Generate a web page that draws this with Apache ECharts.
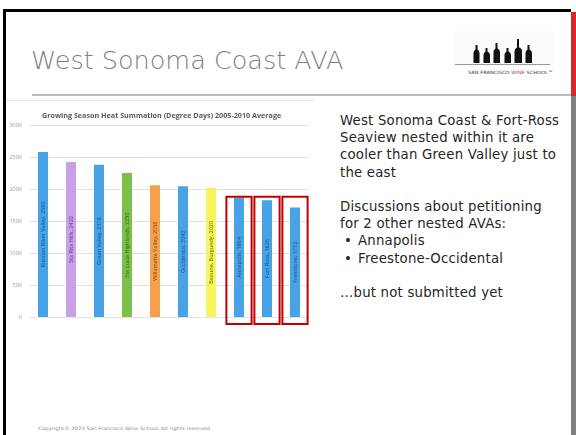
<!DOCTYPE html>
<html>
<head>
<meta charset="utf-8">
<script src="https://cdn.jsdelivr.net/npm/echarts@6/dist/echarts.min.js"></script>
<style>
  html, body { margin: 0; padding: 0; background: #fff; }
  #slide { position: relative; width: 576px; height: 435px; overflow: hidden; background: #fff; font-family: 'DejaVu Sans', sans-serif; }
  .blk { position: absolute; }
  #title { left: 31px; top: 44px; font-size: 25.5px; font-weight: 200; color: #808080; white-space: nowrap; line-height: 32px; }
  #body { left: 340px; top: 112px; font-size: 13.3px; letter-spacing: 0.2px; line-height: 17.2px; color: #262626; white-space: nowrap; }
  #body .bul { padding-left: 18px; position: relative; }
  #body .bul:before { content: '\2022'; position: absolute; left: 4px; }
  #chart { position: absolute; left: 0; top: 100px; width: 330px; height: 235px; }
</style>
</head>
<body>
<div id="slide">
  <div class="blk" style="left:3px;top:9px;width:568px;height:3px;background:#000"></div>
  <div class="blk" style="left:3px;top:9px;width:3px;height:426px;background:#000"></div>
  <div class="blk" style="left:571px;top:12px;width:5px;height:84px;background:#d9262b"></div>
  <div class="blk" style="left:571px;top:96px;width:5px;height:339px;background:#808080"></div>
  <div class="blk" style="left:32px;top:94px;width:539px;height:2px;background:#bcbcbc"></div>
  <div class="blk" style="left:6px;top:100px;width:308px;height:1px;background:#e4e4e4"></div>

  <div id="title" class="blk">West Sonoma Coast AVA</div>

  <svg class="blk" style="left:455px;top:30px" width="100" height="48" viewBox="0 0 100 48">
    <rect x="0" y="0" width="98" height="37" fill="#fbfbfa"/>
    <g fill="#111">
      <path d="M18.5 33 L18.5 23 Q18.5 20.5 20.5 19.5 L20.5 15 L22.5 15 L22.5 19.5 Q24.5 20.5 24.5 23 L24.5 33 Z"/>
      <path d="M28.5 33 L28.5 25 Q28.5 22.5 30.5 21.5 L30.5 18 L32.5 18 L32.5 21.5 Q35 22.5 35 25 L35 33 Z"/>
      <path d="M38.5 33 L38.5 22 Q38.5 19.5 40.5 18.5 L40.5 13 L42.5 13 L42.5 18.5 Q45 19.5 45 22 L45 33 Z"/>
      <path d="M49.5 33 L49.5 25 Q49.5 22.5 51.5 21.5 L51.5 18 L53.5 18 L53.5 21.5 Q56 22.5 56 25 L56 33 Z"/>
      <path d="M59.5 33 L59.5 21 Q59.5 18.5 62 17.5 L62 9 L64 9 L64 17.5 Q67 18.5 67 21 L67 33 Z"/>
      <path d="M70.5 33 L70.5 23 Q70.5 20.5 72.5 19.5 L72.5 15 L74.5 15 L74.5 19.5 Q77 20.5 77 23 L77 33 Z"/>
    </g>
    <rect x="0" y="34" width="95" height="1" fill="#9a9a9a"/>
    <text x="13" y="44" font-size="4.4" font-family="DejaVu Sans" fill="#333" textLength="85" lengthAdjust="spacingAndGlyphs">SAN FRANCISCO <tspan fill="#c0392b">WINE</tspan> SCHOOL™</text>
  </svg>

  <div id="chart"></div>

  <div id="body" class="blk">
    <div>West Sonoma Coast &amp; Fort-Ross</div>
    <div>Seaview nested within it are</div>
    <div>cooler than Green Valley just to</div>
    <div>the east</div>
    <div>&nbsp;</div>
    <div>Discussions about petitioning</div>
    <div>for 2 other nested AVAs:</div>
    <div class="bul">Annapolis</div>
    <div class="bul">Freestone-Occidental</div>
    <div>&nbsp;</div>
    <div>…but not submitted yet</div>
  </div>

  <svg class="blk" style="left:30px;top:422px" width="200" height="10">
    <text x="8" y="7.5" font-size="4.6" font-family="DejaVu Sans" fill="#8a8a8a" textLength="172" lengthAdjust="spacingAndGlyphs">Copyright© 2023 San Francisco Wine School. All rights reserved</text>
  </svg>
</div>

<script>
  // 数据
  const categories = ['Russian River Valley', 'Sta Rita Hills', 'Green Valley', 'Sta Lucia Highlands',
    'Willamette Valley', 'Occidental', 'Beaune, Burgundy', 'Annapolis', 'Fort Ross', 'Freestone']
  const degreeDays = [2580, 2420, 2378, 2250, 2058, 2042, 2020, 1864, 1826, 1712]
  const barColors = ['#47a2e6', '#c7a0e6', '#47a2e6', '#7cc04a', '#f5a04c', '#47a2e6', '#f8f45c', '#47a2e6', '#47a2e6', '#47a2e6']
  const labelColors = ['#1d4f7c', '#5a3b78', '#1d4f7c', '#345a1c', '#7a4a18', '#1d4f7c', '#6a6620', '#1d4f7c', '#1d4f7c', '#1d4f7c']
  const yTicks = [0, 500, 1000, 1500, 2000, 2500, 3000]
  // 红框标出的产区
  const boxedNames = ['Annapolis', 'Fort Ross', 'Freestone']
  const boxRange = [-110, 1880]

  const myChart = echarts.init(document.getElementById('chart'))

  const option = {
    animation: false,
    title: {
      text: 'Growing Season Heat Summation (Degree Days) 2005-2010 Average',
      left: 37,
      top: 7,
      textStyle: { fontSize: 7.2, fontWeight: 'bold', color: '#5a5a5a', fontFamily: 'Open Sans' }
    },
    grid: { left: 29, top: 25, width: 280, height: 192 },
    xAxis: {
      type: 'category',
      data: categories,
      axisLine: { show: false },
      axisTick: { show: false },
      axisLabel: { show: false }
    },
    yAxis: {
      type: 'value',
      min: yTicks[0],
      max: yTicks[yTicks.length - 1],
      interval: 500,
      axisLabel: { fontSize: 5.5, color: '#9a9a9a', margin: 7, fontFamily: 'Open Sans', formatter: v => String(v) },
      splitLine: { lineStyle: { color: '#e3e3e3', width: 1 } }
    },
    series: [
      {
        type: 'bar',
        barWidth: 10,
        data: degreeDays.map((v, i) => ({
          value: v,
          itemStyle: { color: barColors[i] },
          label: { color: labelColors[i] }
        })),
        label: {
          show: true,
          position: 'inside',
          rotate: 90,
          fontSize: 5.5,
          fontFamily: 'Open Sans',
          formatter: '{b}, {c}'
        }
      },
      {
        type: 'custom',
        silent: true,
        z: 5,
        encode: { x: 0, y: [1, 2] },
        data: boxedNames.map(n => [categories.indexOf(n), boxRange[0], boxRange[1]]),
        renderItem: function (params, api) {
          const lo = api.coord([api.value(0), api.value(1)])
          const hi = api.coord([api.value(0), api.value(2)])
          const w = api.size([1, 0])[0] * 0.9
          return {
            type: 'rect',
            shape: { x: lo[0] - w / 2, y: hi[1], width: w, height: lo[1] - hi[1] },
            style: { fill: 'none', stroke: '#c00000', lineWidth: 2 }
          }
        }
      }
    ]
  }

  myChart.setOption(option)
</script>
</body>
</html>
